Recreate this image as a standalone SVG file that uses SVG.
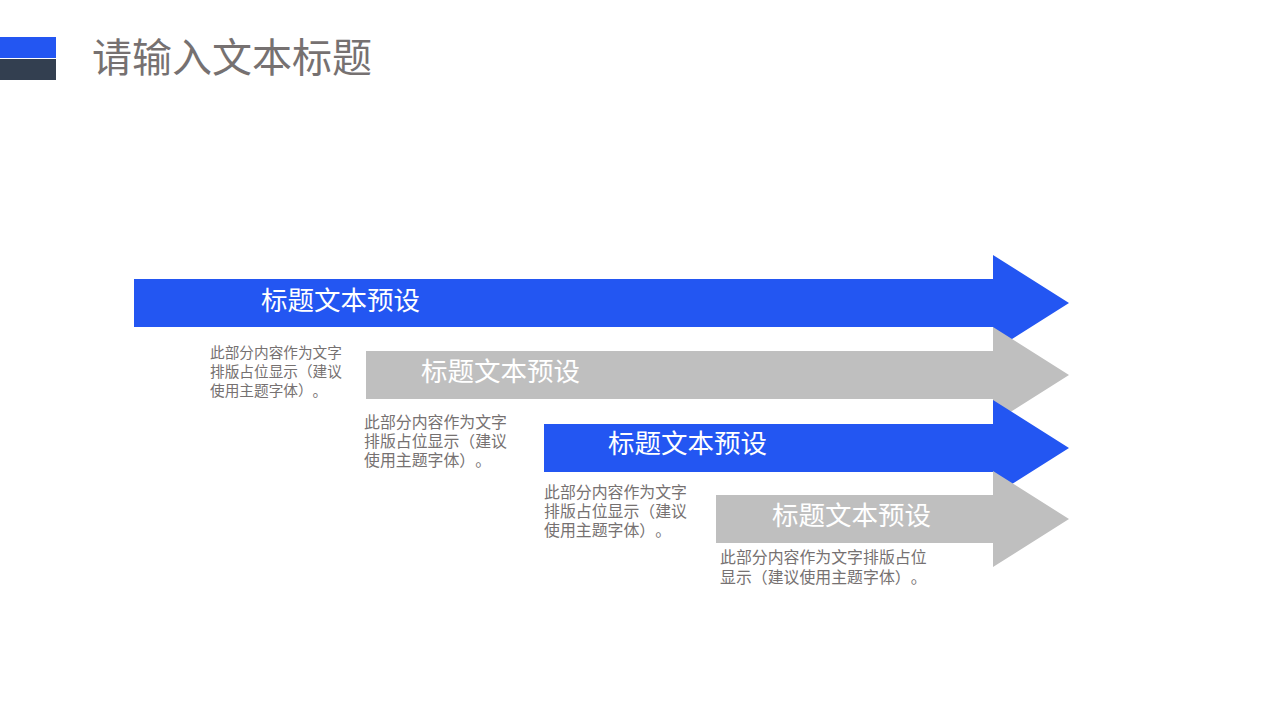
<svg xmlns="http://www.w3.org/2000/svg" width="1280" height="720" viewBox="0 0 1280 720">
<style>
text{text-spacing-trim:space-all}
.blue{fill:#2356F2}
.gray{fill:#BFBFBF}
.lbl{font-family:"Liberation Serif","Noto Sans CJK SC",serif;font-size:26.5px;fill:#FFFFFF}
.desc{font-family:"Liberation Sans","Noto Sans CJK SC",sans-serif;font-size:14.67px;fill:#767171}
.desc4{font-family:"Liberation Sans","Noto Sans CJK SC",sans-serif;font-size:15.9px;fill:#767171}
.title{font-family:"Liberation Sans","Noto Sans CJK SC",sans-serif;font-size:40px;fill:#767171}
</style>
<rect width="1280" height="720" fill="#FFFFFF"/>
<g id="header">
<rect x="0" y="37" width="56" height="21" fill="#2356F2"/>
<rect x="0" y="59" width="56" height="21" fill="#333F50"/>
<text class="title" x="92" y="72">请输入文本标题</text>
</g>
<g id="arrow1">
<polygon class="blue" points="134,279 993,279 993,255 1069,303 993,351 993,327 134,327"/>
<text class="lbl" x="261" y="310">标题文本预设</text>
</g>
<g id="arrow2">
<polygon class="gray" points="366,351 993,351 993,327 1069,375 993,423 993,399 366,399"/>
<text class="lbl" x="421" y="381">标题文本预设</text>
</g>
<g id="arrow3">
<polygon class="blue" points="544,424 993,424 993,400 1069,448 993,496 993,472 544,472"/>
<text class="lbl" x="608" y="453">标题文本预设</text>
</g>
<g id="arrow4">
<polygon class="gray" points="716,495 993,495 993,471 1069,519 993,567 993,543 716,543"/>
<text class="lbl" x="772" y="525">标题文本预设</text>
</g>
<g id="desc1">
<text class="desc" x="210" y="358">此部分内容作为文字</text>
<text class="desc" x="210" y="377">排版占位显示（建议</text>
<text class="desc" x="210" y="395.5">使用主题字体）。</text>
</g>
<g id="desc2">
<text class="desc4" x="364" y="428">此部分内容作为文字</text>
<text class="desc4" x="364" y="447">排版占位显示（建议</text>
<text class="desc4" x="364" y="465.5">使用主题字体）。</text>
</g>
<g id="desc3">
<text class="desc4" x="544" y="498">此部分内容作为文字</text>
<text class="desc4" x="544" y="517">排版占位显示（建议</text>
<text class="desc4" x="544" y="535.5">使用主题字体）。</text>
</g>
<g id="desc4">
<text class="desc4" x="720" y="563">此部分内容作为文字排版占位</text>
<text class="desc4" x="720" y="583">显示（建议使用主题字体）。</text>
</g>
</svg>
